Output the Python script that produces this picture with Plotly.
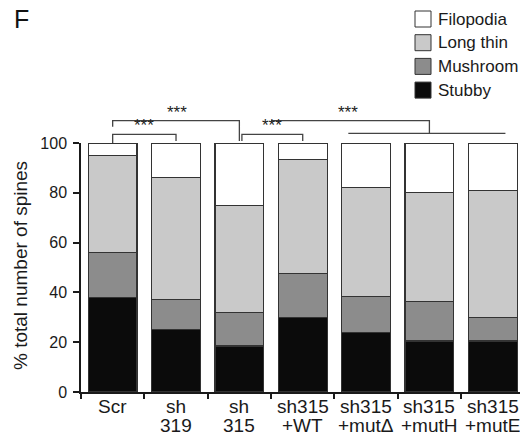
import plotly.graph_objects as go

categories = ["Scr", "sh<br>319", "sh<br>315", "sh315<br>+WT", "sh315<br>+mutΔ", "sh315<br>+mutH", "sh315<br>+mutE"]
stubby = [38, 25, 18.5, 30, 24, 20.5, 20.5]
mushroom = [18, 12, 13.5, 17.5, 14.5, 16, 9.5]
long_thin = [39, 49, 43, 46, 43.5, 43.5, 51]
filopodia = [5, 14, 25, 6.5, 18, 20, 19]

series = [
    ("Stubby", stubby, "#0b0b0b"),
    ("Mushroom", mushroom, "#8c8c8c"),
    ("Long thin", long_thin, "#c9c9c9"),
    ("Filopodia", filopodia, "#ffffff"),
]

FONT = "Arial, Liberation Sans, sans-serif"
W, H = 520, 437
L, R, T, B = 81, 0, 143, 437 - 392
PW, PH = W - L - R, H - T - B


def px_to_paper(px, py):
    """reference screenshot pixel -> paper fraction"""
    return (px - L) / PW, (H - B - py) / PH


fig = go.Figure()
for name, vals, col in series:
    fig.add_trace(go.Bar(
        x=categories, y=vals, name=name,
        marker=dict(color=col, line=dict(color="#333333", width=1.2)),
        width=0.77, showlegend=False,
    ))

fig.update_layout(
    barmode="stack",
    width=W, height=H,
    margin=dict(l=L, r=R, t=T, b=B, autoexpand=False),
    plot_bgcolor="white", paper_bgcolor="white",
    font=dict(family=FONT, color="#1a1a1a"),
    showlegend=False,
)

fig.update_xaxes(
    type="category",
    range=[-0.5, 6.43],
    automargin=False,
    showticklabels=False,
    showline=True, linecolor="#1a1a1a", linewidth=1.5,
    ticks="outside", tickson="boundaries", ticklen=5, tickwidth=1.5, tickcolor="#1a1a1a",
    showgrid=False, zeroline=False,
)
fig.update_yaxes(
    range=[0, 100],
    automargin=False,
    tickvals=[0, 20, 40, 60, 80, 100],
    showline=True, linecolor="#1a1a1a", linewidth=1.5,
    ticks="outside", ticklen=6, tickwidth=1.5, tickcolor="#1a1a1a",
    ticklabelstandoff=3,
    tickfont=dict(size=16, family=FONT, color="#1a1a1a"),
    showgrid=False, zeroline=False,
)

# category labels (two rows, tighter line spacing than plotly's default)
for i, cat in enumerate(categories):
    lines = cat.split("<br>")
    for j, line in enumerate(lines):
        _, ly = px_to_paper(0, 406 + 19 * j)
        fig.add_annotation(x=i, y=ly, xref="x", yref="paper", text=line, showarrow=False,
                           xanchor="center", yanchor="middle",
                           font=dict(size=19, family=FONT, color="#1a1a1a"))

# y-axis title
yx, yy = px_to_paper(20, 266)
fig.add_annotation(x=yx, y=yy, xref="paper", yref="paper", text="% total number of spines",
                   textangle=-90, showarrow=False, xanchor="center", yanchor="middle",
                   font=dict(size=19, family=FONT, color="#1a1a1a"))

# manual legend (top to bottom)
legend_items = [("Filopodia", "#ffffff"), ("Long thin", "#c9c9c9"), ("Mushroom", "#8c8c8c"), ("Stubby", "#0b0b0b")]
for i, (name, col) in enumerate(legend_items):
    cy = 19 + i * 23.7
    x0, y0 = px_to_paper(415, cy + 8)
    x1, y1 = px_to_paper(431, cy - 8)
    fig.add_shape(type="rect", xref="paper", yref="paper", x0=x0, y0=y0, x1=x1, y1=y1,
                  fillcolor=col, line=dict(color="#333333", width=1))
    tx, ty = px_to_paper(436, cy)
    fig.add_annotation(x=tx, y=ty, xref="paper", yref="paper", text=name, showarrow=False,
                       xanchor="left", yanchor="middle",
                       font=dict(size=17, family=FONT, color="#1a1a1a"))

# significance brackets (x in category index, y in paper fraction)
LC = "#444444"
brackets = [
    [(0, 1.0), (0, 1.035), (1, 1.035), (1, 1.008)],
    [(0, 1.065), (0, 1.09), (2.0, 1.09), (2.0, 1.008)],
    [(2.04, 1.008), (2.04, 1.035), (3, 1.035), (3, 1.008)],
    [(2.5, 1.09), (5.0, 1.09), (5.0, 1.039)],
    [(3.72, 1.039), (6.2, 1.039)],
]
for pts in brackets:
    path = "M " + " L ".join(f"{x},{y}" for x, y in pts)
    fig.add_shape(type="path", path=path, xref="x", yref="paper",
                  line=dict(color=LC, width=1.3))

stars = [(0.5, 1.035), (1.01, 1.09), (2.52, 1.035), (3.72, 1.09)]
for x, y in stars:
    fig.add_annotation(x=x, y=y, xref="x", yref="paper", text="***",
                       showarrow=False, yanchor="bottom", yshift=-3,
                       font=dict(size=17, family=FONT, color="#222222"))

fx, fy = px_to_paper(12, 3)
fig.add_annotation(x=fx, y=fy, xref="paper", yref="paper", text="F",
                   xanchor="left", yanchor="top", showarrow=False,
                   font=dict(size=25, family=FONT, color="#111111"))

fig.write_html(
    "out.html",
    config={"displayModeBar": False},
    post_script="document.body.style.margin='0';document.body.style.overflow='hidden';",
)
